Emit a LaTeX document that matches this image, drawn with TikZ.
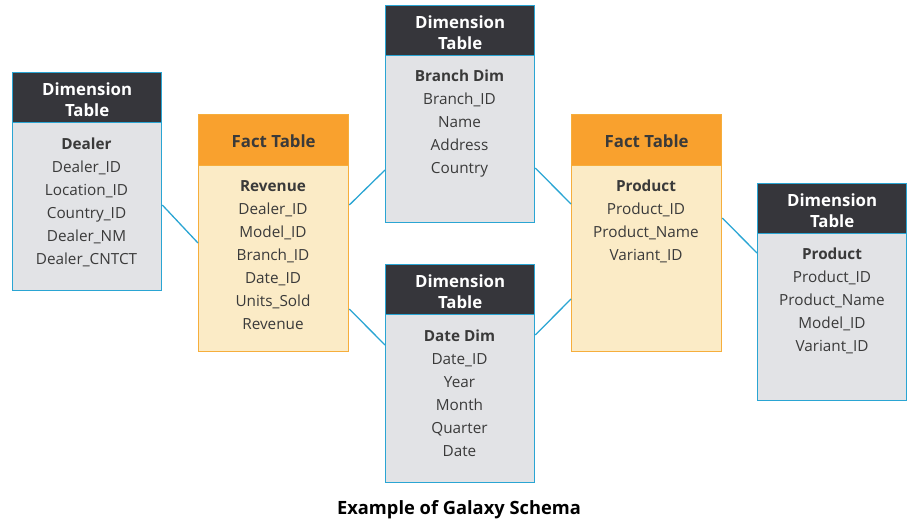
\documentclass[tikz,border=0pt]{standalone}
\usepackage{fontspec}
\setmainfont{Open Sans}
\definecolor{bluebd}{HTML}{2AA5D3}
\definecolor{darkhd}{HTML}{36363B}
\definecolor{graybd}{HTML}{E2E3E6}
\definecolor{orangehd}{HTML}{F9A12E}
\definecolor{orangebd}{HTML}{F6AE3C}
\definecolor{lightbd}{HTML}{FBEBC6}
\definecolor{txt}{HTML}{3A3A3A}
\tikzset{
  x=1pt,y=-1pt,
  dimhead/.style={draw=bluebd,line width=1.3pt,fill=darkhd,anchor=north west,minimum width=149pt,minimum height=50pt,inner sep=0pt},
  dimbody/.style={draw=bluebd,line width=1.3pt,fill=graybd,anchor=north west,minimum width=149pt,inner sep=0pt},
  facthead/.style={draw=orangebd,line width=1.3pt,fill=orangehd,anchor=north west,minimum width=150pt,minimum height=51pt,inner sep=0pt},
  factbody/.style={draw=orangebd,line width=1.3pt,fill=lightbd,anchor=north west,minimum width=150pt,inner sep=0pt},
  htext/.style={align=center,inner sep=0pt,font=\fontsize{16.8}{21}\selectfont\bfseries},
  fields/.style={anchor=north,align=center,text=txt,font=\fontsize{15.3}{23}\selectfont,inner sep=0pt},
  link/.style={draw=bluebd,line width=1.3pt}
}
\newcommand{\tb}[1]{\textbf{#1}}
\begin{document}
\begin{tikzpicture}
\useasboundingbox (0,0) rectangle (918,527);
% Dealer dimension
\node[dimhead] (dealerh) at (12,72) {};
\node[htext,text=white] (dealerht) at ([yshift=-2pt]dealerh.center) {Dimension\\Table};
\node[dimbody,minimum height=168pt] (dealer) at (12,122) {};
\node[fields] (dealert) at (86.5,138) {\tb{Dealer}\\Dealer\_ID\\Location\_ID\\Country\_ID\\Dealer\_NM\\Dealer\_CNTCT};
% Revenue fact
\node[facthead] (revh) at (198,114) {};
\node[htext,text=txt] (revht) at ([yshift=-1pt]revh.center) {Fact Table};
\node[factbody,minimum height=186pt] (rev) at (198,165) {};
\node[fields] (revt) at (273,180) {\tb{Revenue}\\Dealer\_ID\\Model\_ID\\Branch\_ID\\Date\_ID\\Units\_Sold\\Revenue};
% Branch dimension
\node[dimhead] (branchh) at (385,5) {};
\node[htext,text=white] (branchht) at ([yshift=-2pt]branchh.center) {Dimension\\Table};
\node[dimbody,minimum height=167pt] (branch) at (385,55) {};
\node[fields] (brancht) at (459.5,70) {\tb{Branch Dim}\\Branch\_ID\\Name\\Address\\Country};
% Date dimension
\node[dimhead] (dateh) at (385,264) {};
\node[htext,text=white] (dateht) at ([yshift=-2pt]dateh.center) {Dimension\\Table};
\node[dimbody,minimum height=168pt] (date) at (385,314) {};
\node[fields] (datet) at (459.5,330) {\tb{Date Dim}\\Date\_ID\\Year\\Month\\Quarter\\Date};
% Product fact
\node[facthead] (pfh) at (571,114) {};
\node[htext,text=txt] (pfht) at ([yshift=-1pt]pfh.center) {Fact Table};
\node[factbody,minimum height=186pt] (pf) at (571,165) {};
\node[fields] (pft) at (646,180) {\tb{Product}\\Product\_ID\\Product\_Name\\Variant\_ID};
% Product dimension
\node[dimhead] (pdh) at (757,183) {};
\node[htext,text=white] (pdht) at ([yshift=-2pt]pdh.center) {Dimension\\Table};
\node[dimbody,minimum height=167pt] (pd) at (757,233) {};
\node[fields] (pdt) at (832,248) {\tb{Product}\\Product\_ID\\Product\_Name\\Model\_ID\\Variant\_ID};
% connectors
\draw[link] ([yshift=-83pt]dealer.north east) -- ([yshift=-78pt]rev.north west);
\draw[link] ([yshift=-40pt]rev.north east) -- ([yshift=-115pt]branch.north west);
\draw[link] ([yshift=-144pt]rev.north east) -- ([yshift=-31pt]date.north west);
\draw[link] ([yshift=-113pt]branch.north east) -- ([yshift=-39pt]pf.north west);
\draw[link] ([yshift=-21pt]date.north east) -- ([yshift=-134pt]pf.north west);
\draw[link] ([yshift=-53pt]pf.north east) -- ([yshift=-20pt]pd.north west);
% caption
\node[font=\fontsize{18.3}{22}\selectfont\bfseries,text=black] (caption) at (459,510) {Example of Galaxy Schema};
\end{tikzpicture}
\end{document}
